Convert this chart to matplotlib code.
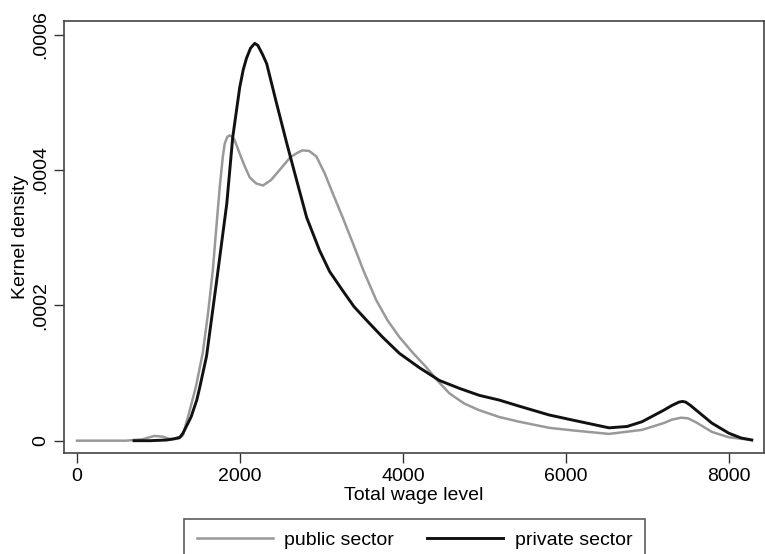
import matplotlib
matplotlib.use('Agg')
import numpy as np
import matplotlib.pyplot as plt

plt.rcParams['font.family'] = ['Liberation Sans', 'DejaVu Sans']

# kernel density of total wages, density in units of 1e-4
public_wage = [0, 600, 800, 950, 1050, 1150, 1250, 1300, 1384, 1460, 1544, 1610,
               1667, 1710, 1752, 1790, 1813, 1845, 1874, 1905, 1930, 1960, 1997,
               2060, 2120, 2200, 2283, 2380, 2487, 2620, 2700, 2769, 2850, 2937,
               3040, 3140, 3260, 3385, 3520, 3671, 3810, 3957, 4120, 4283, 4430,
               4570, 4750, 4937, 5182, 5427, 5794, 6100, 6529, 6934, 7200, 7300,
               7411, 7500, 7600, 7791, 8000, 8281]
public_dens = [0, 0, 0.02, 0.07, 0.06, 0.02, 0.03, 0.08, 0.45, 0.8, 1.3, 1.9,
               2.52, 3.15, 3.75, 4.2, 4.39, 4.49, 4.51, 4.49, 4.45, 4.36, 4.24,
               4.05, 3.89, 3.8, 3.77, 3.85, 4.0, 4.19, 4.25, 4.29, 4.28, 4.2,
               3.95, 3.65, 3.3, 2.92, 2.5, 2.08, 1.78, 1.53, 1.3, 1.09, 0.88,
               0.7, 0.55, 0.45, 0.35, 0.28, 0.19, 0.15, 0.1, 0.16, 0.26, 0.31,
               0.34, 0.33, 0.27, 0.13, 0.05, 0.01]

private_wage = [700, 900, 1100, 1200, 1262, 1300, 1400, 1470, 1507, 1590, 1715,
                1838, 1911, 1997, 2040, 2080, 2130, 2181, 2220, 2280, 2328, 2450,
                2573, 2695, 2818, 2977, 3100, 3259, 3400, 3553, 3750, 3957, 4200,
                4447, 4700, 4937, 5182, 5427, 5794, 6100, 6529, 6750, 6934, 7200,
                7300, 7387, 7430, 7470, 7530, 7600, 7791, 8000, 8150, 8281]
private_dens = [0, 0, 0.01, 0.03, 0.05, 0.11, 0.35, 0.6, 0.79, 1.25, 2.37,
                3.5, 4.48, 5.22, 5.48, 5.65, 5.8, 5.87, 5.84, 5.7, 5.57, 4.98,
                4.4, 3.85, 3.3, 2.81, 2.5, 2.22, 1.98, 1.78, 1.53, 1.29, 1.08,
                0.89, 0.77, 0.67, 0.6, 0.51, 0.38, 0.3, 0.19, 0.21, 0.28, 0.45,
                0.52, 0.57, 0.58, 0.57, 0.52, 0.45, 0.26, 0.11, 0.04, 0.01]

x_ticks = [0, 2000, 4000, 6000, 8000]
y_ticks = [0, 0.0002, 0.0004, 0.0006]
y_labels = ['0', '.0002', '.0004', '.0006']

fig = plt.figure(figsize=(7.65, 5.54), dpi=100)
ax = fig.add_axes([0.0837, 0.1823, 0.915, 0.7797])

ax.plot(public_wage, np.array(public_dens) * 1e-4, color='#999999', lw=1.8,
        label='public sector', solid_joinstyle='round')
ax.plot(private_wage, np.array(private_dens) * 1e-4, color='#111111', lw=2.1,
        label='private sector', solid_joinstyle='round')

ax.set_xlim(-159, 8431)
ax.set_ylim(-0.0000182, 0.00062)
ax.set_xticks(x_ticks)
ax.set_yticks(y_ticks)
ax.set_yticklabels(y_labels, rotation=90, va='center')
ax.tick_params(labelsize=14, length=7, width=1, color='#333333', pad=4)
for s in ax.spines.values():
    s.set_color('#444444')
    s.set_linewidth(1.2)

ax.set_xlabel('Total wage level', fontsize=14, labelpad=1)
ax.set_ylabel('Kernel density', fontsize=14, labelpad=2)

leg = fig.legend(loc='upper center', bbox_to_anchor=(0.542, 1 - 519 / 554),
                 ncol=2, fontsize=14, frameon=True, fancybox=False,
                 edgecolor='#333333', handlelength=3.9, handletextpad=0.6,
                 columnspacing=1.7, borderpad=0.65, borderaxespad=0)
leg.get_frame().set_linewidth(1.2)

plt.savefig('out.png', dpi=100)
